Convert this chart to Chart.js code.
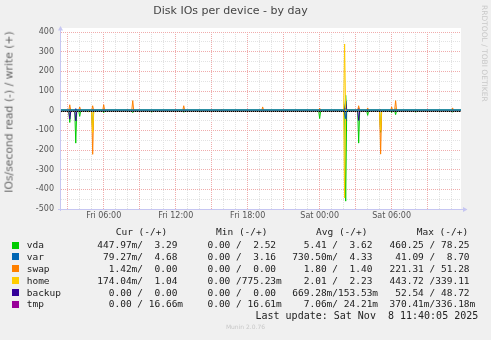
<!DOCTYPE html>
<html><head><meta charset="utf-8">
<script src="https://cdn.jsdelivr.net/npm/chart.js@4/dist/chart.umd.min.js"></script>
<style>
html,body{margin:0;padding:0;background:#f0f0f0;}
#wrap{position:relative;width:491px;height:340px;overflow:hidden;background:#f0f0f0;}
#c{position:absolute;left:0;top:0;}
.t{position:absolute;white-space:pre;font-family:'DejaVu Sans Mono',monospace;font-size:9.5px;line-height:12px;color:#222;}
.sq{position:absolute;width:7px;height:7px;}
#ylab{position:absolute;left:8.5px;top:112px;transform:translate(-50%,-50%) rotate(-90deg);white-space:nowrap;font-family:'DejaVu Sans',sans-serif;font-size:10.8px;color:#666;}
#wm{position:absolute;left:480px;top:5px;writing-mode:vertical-rl;white-space:nowrap;font-family:'DejaVu Sans',sans-serif;font-size:7.5px;color:#c8c8c8;}
#munin{position:absolute;left:0;width:491px;top:323px;text-align:center;font-family:'DejaVu Sans',sans-serif;font-size:6px;color:#c8c8c8;}
</style></head>
<body><div id="wrap">
<canvas id="c" width="491" height="340"></canvas>
<div id="ylab">IOs/second read (-) / write (+)</div>
<div id="wm">RRDTOOL / TOBI OETIKER</div>
<div id="legend"></div>
<div id="munin">Munin 2.0.76</div>
</div>
<script>
// ---- data (hours since Fri 00:00) ----
const X_MIN = 2.44, X_MAX = 35.78;
const xTickHours = [6, 12, 18, 24, 30];
const xTickLabels = ['Fri 06:00', 'Fri 12:00', 'Fri 18:00', 'Sat 00:00', 'Sat 06:00'];
const yTickValues = [400, 300, 200, 100, 0, -100, -200, -300, -400, -500];

const spikeHours = [2.5, 3.17, 3.67, 4.0, 4.75, 5.08, 6.0, 8.0, 8.42, 10.0, 12.67, 14.0, 15.5, 15.83, 19.25, 23.42, 24.0, 25.25, 26.08, 26.17, 27.25, 28.0, 29.08, 30.0, 30.33, 32.0, 34.0, 35.08];

const vdaRead    = [5, 60, 165, 29, 5, 100, 10, 0, 10, 8, 8, 7, 0, 0, 0, 0, 40, 0, 0, 460, 165, 24, 110, 10, 20, 8, 5, 8];
const vdaWrite   = [0, 8, 6, 0, 0, 5, 6, 0, 6, 0, 6, 0, 0, 0, 0, 0, 6, 0, 0, 78, 10, 6, 5, 6, 8, 0, 0, 5];
const varRead    = [0, 0, 0, 0, 0, 0, 0, 0, 0, 0, 0, 0, 0, 0, 0, 0, 0, 0, 0, 41, 0, 0, 0, 0, 0, 0, 0, 0];
const varWrite   = [0, 0, 0, 0, 0, 0, 0, 0, 0, 0, 0, 0, 0, 0, 0, 0, 0, 0, 0, 8.7, 0, 0, 0, 0, 0, 0, 0, 0];
const swapRead   = [0, 0, 0, 0, 0, 222, 0, 0, 0, 0, 0, 0, 0, 0, 0, 0, 0, 0, 0, 0, 0, 0, 221, 0, 0, 0, 0, 0];
const swapWrite  = [0, 30, 0, 19, 0, 25, 30, 5, 51, 0, 25, 0, 0, 6, 19, 4, 13, 3, 0, 10, 25, 14, 5, 19, 51, 0, 0, 14];
const homeRead   = [0, 0, 0, 0, 5, 110, 0, 0, 0, 0, 0, 0, 0, 0, 0, 0, 0, 0, 444, 0, 0, 0, 100, 0, 0, 0, 0, 0];
const homeWrite  = [0, 0, 0, 0, 0, 0, 0, 0, 5, 0, 0, 0, 5, 0, 0, 0, 0, 0, 339, 0, 0, 0, 0, 0, 0, 0, 0, 0];
const backupRead = [0, 43, 52, 0, 0, 0, 0, 0, 0, 0, 0, 0, 0, 0, 0, 0, 0, 0, 0, 52.5, 50, 0, 0, 0, 0, 0, 0, 0];
const backupWrite= [0, 0, 10, 0, 0, 0, 0, 0, 0, 0, 0, 0, 0, 0, 0, 0, 0, 0, 0, 48.7, 15, 0, 0, 0, 0, 0, 0, 0];
const tmpRead    = [0, 0, 0, 0, 0, 0, 0, 0, 0, 0, 0, 0, 0, 0, 0, 0, 0, 0, 0, 0.37, 0, 0, 0, 0, 0, 0, 0, 0];
const tmpWrite   = [0, 0, 0, 0, 0, 0, 0, 0, 0, 0, 0, 0, 0, 0, 0, 0, 0, 0, 0, 0.34, 0, 0, 0, 0, 0, 0, 0, 0];

const deviceNames = ['vda', 'var', 'swap', 'home', 'backup', 'tmp'];
const deviceColors = ['#00cc00', '#0066b3', '#ff8000', '#ffcc00', '#330099', '#990099'];
const drawRank = [6, 0, 2, 1, 5, 4]; // lower = drawn later (on top)
const readBase  = [0.4, 0.5, 0, 0.1, 0, 0];
const writeBase = [3.3, 4.3, 0, 1.0, 0, 0.02];
const readSeries  = [vdaRead, varRead, swapRead, homeRead, backupRead, tmpRead];
const writeSeries = [vdaWrite, varWrite, swapWrite, homeWrite, backupWrite, tmpWrite];

const curText = ['447.97m/  3.29 ', ' 79.27m/  4.68 ', '  1.42m/  0.00 ', '174.04m/  1.04 ', '  0.00 /  0.00 ', '  0.00 / 16.66m'];
const minText = ['  0.00 /  2.52 ', '  0.00 /  3.16 ', '  0.00 /  0.00 ', '  0.00 /775.23m', '  0.00 /  0.00 ', '  0.00 / 16.61m'];
const avgText = ['  5.41 /  3.62 ', '730.50m/  4.33 ', '  1.80 /  1.40 ', '  2.01 /  2.23 ', '669.28m/153.53m', '  7.06m/ 24.21m'];
const maxText = ['460.25 / 78.25 ', ' 41.09 /  8.70 ', '221.31 / 51.28 ', '443.72 /339.11 ', ' 52.54 / 48.72 ', '370.41m/336.18m'];
const lastUpdate = 'Last update: Sat Nov  8 11:40:05 2025';

// ---- build line points ----
const SAMPLE = 5 / 60;
function buildPoints(values, base, sign) {
  const pts = [{x: X_MIN, y: sign * base}];
  spikeHours.forEach((t, i) => {
    if (values[i] <= base) return;
    pts.push({x: t - SAMPLE, y: sign * base}, {x: t, y: sign * values[i]}, {x: t + SAMPLE, y: sign * base});
  });
  pts.push({x: X_MAX, y: sign * base});
  return pts;
}
const datasets = [];
deviceNames.forEach((name, d) => {
  const common = {borderColor: deviceColors[d], borderWidth: 1, pointRadius: 0, fill: false, tension: 0, order: drawRank[d]};
  datasets.push(Object.assign({label: name + ' read', data: buildPoints(readSeries[d], readBase[d], -1)}, common));
  datasets.push(Object.assign({label: name + ' write', data: buildPoints(writeSeries[d], writeBase[d], 1)}, common));
});

const AXIS_COLOR = '#c6c6f2';
const bgPlugin = {
  id: 'bg',
  beforeDraw(chart) {
    const {ctx, chartArea: a} = chart;
    ctx.save(); ctx.fillStyle = '#ffffff';
    ctx.fillRect(a.left, a.top - 4, a.right - a.left, a.bottom - a.top + 4);
    ctx.restore();
  },
  afterDatasetsDraw(chart) {
    const {ctx, chartArea: a, scales} = chart;
    const y0 = Math.round(scales.y.getPixelForValue(0)) + 0.5;
    ctx.save(); ctx.strokeStyle = '#000'; ctx.lineWidth = 1; ctx.setLineDash([1, 1]);
    ctx.beginPath(); ctx.moveTo(a.left, y0); ctx.lineTo(a.right, y0); ctx.stroke();
    ctx.restore();
  },
  afterDraw(chart) {
    const {ctx, chartArea: a} = chart;
    const lx = a.left - 0.5, by = a.bottom + 0.5;
    ctx.save(); ctx.strokeStyle = AXIS_COLOR; ctx.fillStyle = AXIS_COLOR; ctx.lineWidth = 1;
    ctx.beginPath(); ctx.moveTo(lx, a.bottom + 2); ctx.lineTo(lx, a.top - 2); ctx.stroke();
    ctx.beginPath(); ctx.moveTo(a.left - 3, by); ctx.lineTo(a.right + 2, by); ctx.stroke();
    ctx.beginPath(); ctx.moveTo(lx - 2.5, a.top - 1.5); ctx.lineTo(lx + 2.5, a.top - 1.5); ctx.lineTo(lx, a.top - 6); ctx.closePath(); ctx.fill();
    ctx.beginPath(); ctx.moveTo(a.right + 2, by - 2.5); ctx.lineTo(a.right + 2, by + 2.5); ctx.lineTo(a.right + 6.5, by); ctx.closePath(); ctx.fill();
    ctx.restore();
  }
};

const MAJOR = '#f0acac', MINOR = '#e2e2e2';
new Chart(document.getElementById('c'), {
  type: 'line',
  data: {datasets},
  plugins: [bgPlugin],
  options: {
    responsive: false, animation: false, devicePixelRatio: 1,
    layout: {padding: {left: 0, right: 30, top: 0, bottom: 106}},
    plugins: {
      legend: {display: false}, tooltip: {enabled: false},
      title: {display: true, text: 'Disk IOs per device - by day', color: '#444',
        font: {family: 'DejaVu Sans', size: 11, weight: 'normal'}, padding: {top: 5, bottom: 13.8}}
    },
    scales: {
      x: {
        type: 'linear', min: X_MIN, max: X_MAX,
        afterFit(s) { s.height = 25; },
        grid: {drawTicks: false, lineWidth: 1, color: c => (c.tick && c.tick.value % 3 === 0) ? MAJOR : MINOR},
        border: {display: false, dash: [1, 1]},
        ticks: {stepSize: 1, maxTicksLimit: 100, autoSkip: false, maxRotation: 0, minRotation: 0, includeBounds: false,
          padding: 2, color: '#555', font: {family: 'DejaVu Sans', size: 8},
          callback: v => { const i = xTickHours.indexOf(v); return i >= 0 ? xTickLabels[i] : ''; }}
      },
      y: {
        min: -500, max: 400,
        afterFit(s) { s.width = 61; },
        grid: {drawTicks: false, lineWidth: 1, color: c => (c.tick && c.tick.value % 100 === 0) ? MAJOR : MINOR},
        border: {display: false, dash: [1, 1]},
        ticks: {stepSize: 50, maxTicksLimit: 100, autoSkip: false, includeBounds: false, padding: 7,
          color: '#555', font: {family: 'DejaVu Sans', size: 8},
          callback: v => yTickValues.includes(v) ? String(v) : ''}
      }
    }
  }
});

// ---- legend (real text) ----
const leg = document.getElementById('legend');
function addText(txt, x, yc, extra) {
  const d = document.createElement('div'); d.className = 't'; d.textContent = txt;
  d.style.left = x + 'px'; d.style.top = (yc - 6) + 'px';
  if (extra) Object.assign(d.style, extra);
  leg.appendChild(d);
}
const colX = [97.3, 196, 292.3, 389.5];
const headX = [115.7, 216, 316, 416.7];
['Cur (-/+)', 'Min (-/+)', 'Avg (-/+)', 'Max (-/+)'].forEach((h, i) => addText(h, headX[i], 232.3));
const rowY = [245, 256.8, 268.7, 280.5, 292.5, 304.3];
deviceNames.forEach((n, r) => {
  const sq = document.createElement('div'); sq.className = 'sq';
  sq.style.background = deviceColors[r]; sq.style.left = '12px'; sq.style.top = (rowY[r] - 3.5) + 'px';
  leg.appendChild(sq);
  addText(n, 26.7, rowY[r]);
  [curText, minText, avgText, maxText].forEach((arr, c) => addText(arr[r], colX[c], rowY[r]));
});
addText(lastUpdate, 255.5, 316, {fontSize: '10px'});
</script>
</body></html>
